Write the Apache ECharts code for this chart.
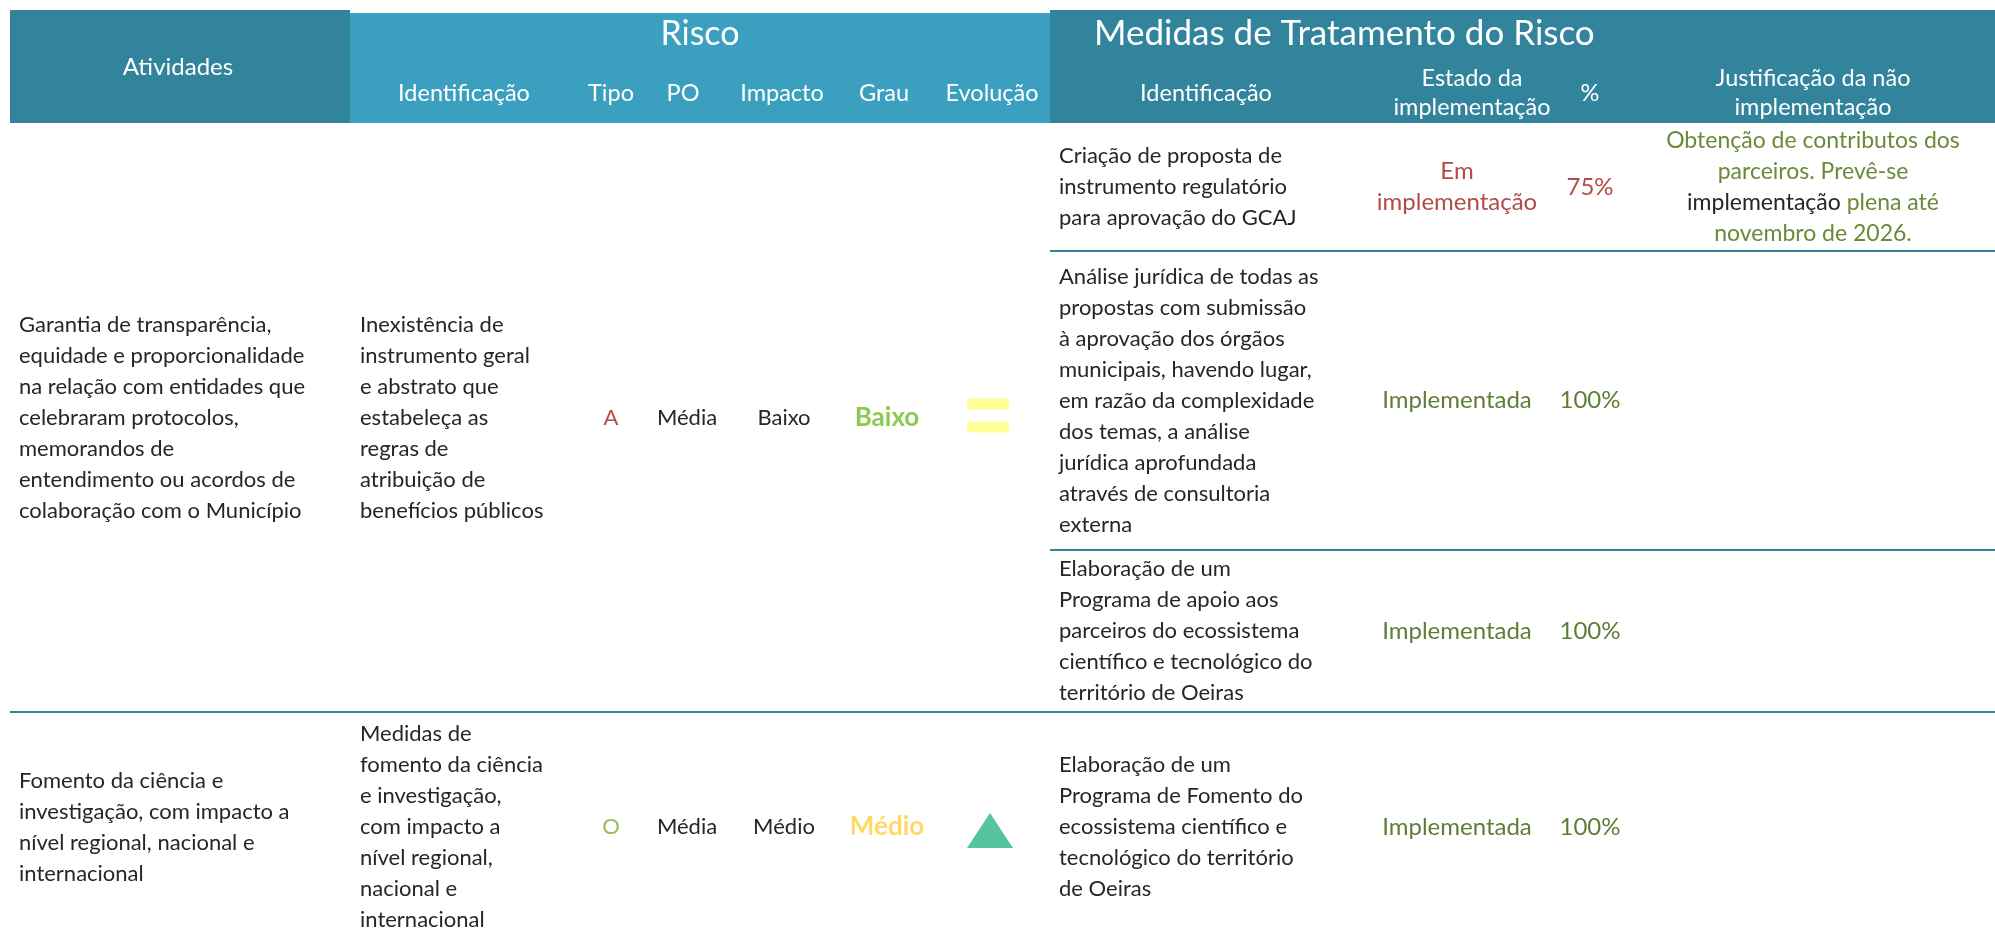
<!DOCTYPE html>
<html><head><meta charset="utf-8">
<script src="https://cdn.jsdelivr.net/npm/echarts@6/dist/echarts.min.js"></script>
<style>html,body{margin:0;padding:0;background:#fff}#c{width:1995px;height:937px}</style>
</head><body><div id="c"></div>
<script>
// ---------------- DATA ----------------
const groupHeaders = ['Atividades', 'Risco', 'Medidas de Tratamento do Risco'];
const riskHeaders = ['Identificação', 'Tipo', 'PO', 'Impacto', 'Grau', 'Evolução'];
const measureHeaders = ['Identificação', 'Estado da\nimplementação', '%', 'Justificação da não\nimplementação'];

const activities = [
  'Garantia de transparência,\nequidade e proporcionalidade\nna relação com entidades que\ncelebraram protocolos,\nmemorandos de\nentendimento ou acordos de\ncolaboração com o Município',
  'Fomento da ciência e\ninvestigação, com impacto a\nnível regional, nacional e\ninternacional'
];
const riskIdentification = [
  'Inexistência de\ninstrumento geral\ne abstrato que\nestabeleça as\nregras de\natribuição de\nbenefícios públicos',
  'Medidas de\nfomento da ciência\ne investigação,\ncom impacto a\nnível regional,\nnacional e\ninternacional'
];
const riskType = ['A', 'O'];
const riskPO = ['Média', 'Média'];
const riskImpact = ['Baixo', 'Médio'];
const riskDegree = ['Baixo', 'Médio'];
const riskEvolution = ['equal', 'up'];

const measureIdentification = [
  'Criação de proposta de\ninstrumento regulatório\npara aprovação do GCAJ',
  'Análise jurídica de todas as\npropostas com submissão\nà aprovação dos órgãos\nmunicipais, havendo lugar,\nem razão da complexidade\ndos temas, a análise\njurídica aprofundada\natravés de consultoria\nexterna',
  'Elaboração de um\nPrograma de apoio aos\nparceiros do ecossistema\ncientífico e tecnológico do\nterritório de Oeiras',
  'Elaboração de um\nPrograma de Fomento do\necossistema científico e\ntecnológico do território\nde Oeiras'
];
const measureState = ['Em\nimplementação', 'Implementada', 'Implementada', 'Implementada'];
const measurePercent = [75, 100, 100, 100];
const measureJustification = [
  'Obtenção de contributos dos\nparceiros. Prevê-se\n{k|implementação} plena até\nnovembro de 2026.',
  '', '', ''
];

// ---------------- LAYOUT / STYLE ----------------
const W = 1995, H = 937;
const HEADER = [10, 123];
const groupSpan = [[10, 350], [350, 1050], [1050, 1995]];
const groupTop = [10, 13, 10];
const groupTitleX = [178, 700, 1094];
const groupTitleY = [67, 34, 34];
const groupTitleAlign = ['center', 'center', 'left'];
const groupTitleSize = [24, 34, 35];
const groupColor = ['#31849B', '#3BA0BF', '#31849B'];
const riskHeaderX = [464, 611, 683, 782, 884, 992];
const measureHeaderX = [1206, 1472, 1590, 1813];
const subHeaderY = 93;
const SUB_SIZE = 23.5;
const activityBand = [[123, 712], [712, 942]];
const measureBand = [[123, 251], [251, 550], [550, 712], [712, 942]];
const measureRowSplits = [251, 550];
const activitySplits = [712];
const colX = { act: 19, riskId: 360, tipo: 611, po: 687, impacto: 784, grau: 887, evol: 988, measId: 1059, estado: 1457, pct: 1590, just: 1813 };
const FONT = 'Lato, "Open Sans", sans-serif';
const BODY_SIZE = 22, LINE_H = 31;
const TEXT_COLOR = '#262626';
const RED = '#B24C4A', OLIVE = '#5F7D36', OLIVE2 = '#6A8A3A';
const typeColor = { A: RED, O: '#9BBB59' };
const degreeColor = { 'Baixo': '#8DCB50', 'Médio': '#FFD966' };
const stateColor = { 'Em\nimplementação': RED, 'Implementada': OLIVE };
const LINE_COLOR = '#31849B';

// ---------------- BUILD CELLS ----------------
const cells = [];
function addCell(text, x, band, align, color, extra) {
  cells.push(Object.assign({ text, x, band, align, color }, extra || {}));
}
activities.forEach((t, i) => {
  const b = activityBand[i];
  addCell(t, colX.act, b, 'left', TEXT_COLOR);
  addCell(riskIdentification[i], colX.riskId, b, 'left', TEXT_COLOR);
  addCell(riskType[i], colX.tipo, b, 'center', typeColor[riskType[i]]);
  addCell(riskPO[i], colX.po, b, 'center', TEXT_COLOR);
  addCell(riskImpact[i], colX.impacto, b, 'center', TEXT_COLOR);
  addCell(riskDegree[i], colX.grau, b, 'center', degreeColor[riskDegree[i]], { bold: true, size: 26 });
});
measureIdentification.forEach((t, i) => {
  const b = measureBand[i];
  addCell(t, colX.measId, b, 'left', TEXT_COLOR);
  addCell(measureState[i], colX.estado, b, 'center', stateColor[measureState[i]], { size: 24 });
  addCell(measurePercent[i] + '%', colX.pct, b, 'center', stateColor[measureState[i]], { size: 24 });
  if (measureJustification[i]) addCell(measureJustification[i], colX.just, b, 'center', OLIVE2, { rich: true, size: 23 });
});

const chart = echarts.init(document.getElementById('c'), null, { renderer: 'canvas' });

function textEl(text, x, y, opt) {
  const size = opt.size || BODY_SIZE;
  const lh = opt.lineHeight || LINE_H;
  return {
    type: 'text',
    style: Object.assign({
      text, x, y,
      fill: opt.color,
      fontFamily: FONT,
      fontSize: size,
      fontWeight: opt.bold ? 'bold' : 'normal',
      align: opt.align || 'center',
      verticalAlign: 'middle',
      lineHeight: lh
    }, opt.rich ? { rich: { k: { fill: TEXT_COLOR, fontFamily: FONT, fontSize: size, lineHeight: lh } } } : {})
  };
}

const option = {
  animation: false,
  backgroundColor: '#ffffff',
  grid: { left: 0, right: 0, top: 0, bottom: 0 },
  xAxis: { type: 'value', min: 0, max: W, show: false },
  yAxis: { type: 'value', min: 0, max: H, inverse: true, show: false },
  series: [
    { // header group blocks + titles
      type: 'custom', clip: false, silent: true,
      data: groupHeaders.map((g, i) => [i]),
      renderItem: function (params, api) {
        const i = params.dataIndex;
        const p0 = api.coord([groupSpan[i][0], groupTop[i]]);
        const p1 = api.coord([groupSpan[i][1], HEADER[1]]);
        const pt = api.coord([groupTitleX[i], groupTitleY[i]]);
        return {
          type: 'group',
          children: [
            { type: 'rect', shape: { x: p0[0], y: p0[1], width: p1[0] - p0[0], height: p1[1] - p0[1] }, style: { fill: groupColor[i] } },
            textEl(groupHeaders[i], pt[0], pt[1], { color: '#ffffff', size: groupTitleSize[i], align: groupTitleAlign[i], lineHeight: 38 })
          ]
        };
      }
    },
    { // sub headers
      type: 'custom', clip: false, silent: true,
      data: riskHeaders.map((h, i) => [i]).concat(measureHeaders.map((h, i) => [riskHeaders.length + i])),
      renderItem: function (params, api) {
        const i = params.dataIndex;
        const isRisk = i < riskHeaders.length;
        const text = isRisk ? riskHeaders[i] : measureHeaders[i - riskHeaders.length];
        const x = isRisk ? riskHeaderX[i] : measureHeaderX[i - riskHeaders.length];
        const p = api.coord([x, subHeaderY]);
        return textEl(text, p[0], p[1], { color: '#ffffff', size: SUB_SIZE, lineHeight: 29 });
      }
    },
    { // separators
      type: 'custom', clip: false, silent: true,
      data: measureRowSplits.map((y, i) => [i]).concat(activitySplits.map((y, i) => [measureRowSplits.length + i])),
      renderItem: function (params, api) {
        const i = params.dataIndex;
        const full = i >= measureRowSplits.length;
        const y = full ? activitySplits[i - measureRowSplits.length] : measureRowSplits[i];
        const a = api.coord([full ? groupSpan[0][0] : groupSpan[2][0], y]);
        const b = api.coord([W, y]);
        return { type: 'line', shape: { x1: a[0], y1: a[1], x2: b[0], y2: b[1] }, style: { stroke: LINE_COLOR, lineWidth: 2 } };
      }
    },
    { // body texts
      type: 'custom', clip: false, silent: true,
      data: cells.map((c, i) => [i]),
      renderItem: function (params, api) {
        const c = cells[params.dataIndex];
        const p = api.coord([c.x, (c.band[0] + c.band[1]) / 2]);
        return textEl(c.text, p[0], p[1], { color: c.color, align: c.align, bold: c.bold, rich: c.rich, size: c.size });
      }
    },
    { // evolution symbols
      type: 'custom', clip: false, silent: true,
      data: riskEvolution.map((e, i) => [i]),
      renderItem: function (params, api) {
        const i = params.dataIndex;
        const b = activityBand[i];
        if (riskEvolution[i] === 'equal') {
          const c = api.coord([colX.evol, (b[0] + b[1]) / 2 - 2]);
          return {
            type: 'group', children: [
              { type: 'rect', shape: { x: c[0] - 21, y: c[1] - 17, width: 42, height: 11 }, style: { fill: '#FFFF99' } },
              { type: 'rect', shape: { x: c[0] - 21, y: c[1] + 6, width: 42, height: 11 }, style: { fill: '#FFFF99' } }
            ]
          };
        }
        const c = api.coord([colX.evol + 2, (b[0] + b[1]) / 2 + 4]);
        return { type: 'polygon', shape: { points: [[c[0] - 23, c[1] + 17], [c[0] + 23, c[1] + 17], [c[0], c[1] - 18]] }, style: { fill: '#57C4A0' } };
      }
    }
  ]
};
chart.setOption(option);
</script>
</body></html>
